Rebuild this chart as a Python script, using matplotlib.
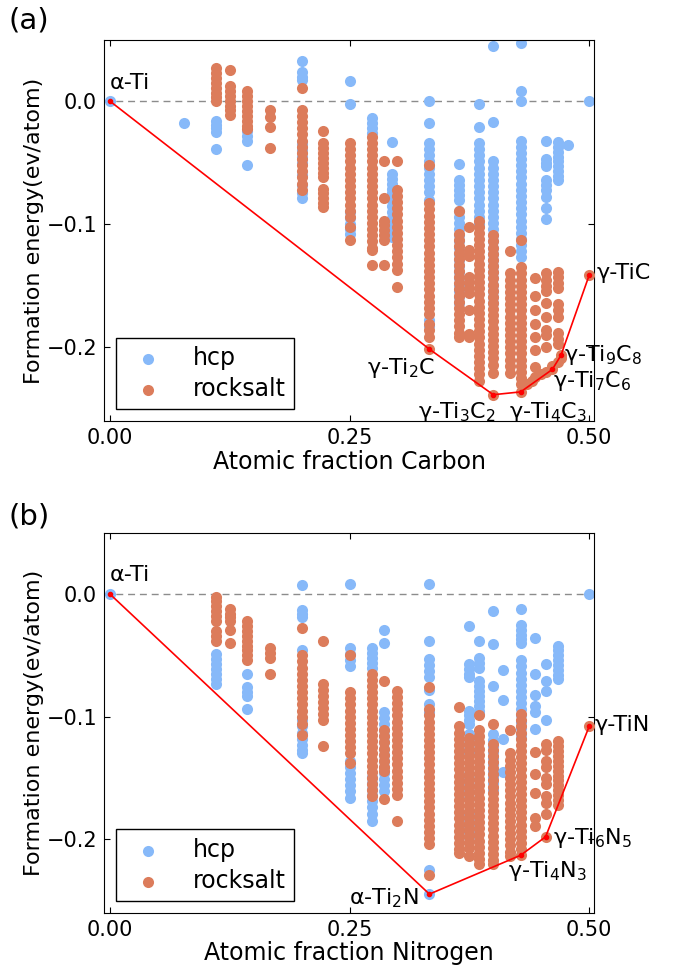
import numpy as np
import matplotlib.pyplot as plt

# ---------------- Ti-C data (atomic fraction, formation energy eV/atom) ----------------
c_hcp = [
    (0.0, [0.0]),
    (0.077, [-0.018]),
    (0.111, [-0.016, -0.019, -0.022, -0.025, -0.039]),
    (0.143, [-0.024, -0.028, -0.032, -0.052]),
    (0.2, [0.033, 0.024, 0.020, 0.017, -0.035, -0.040, -0.045, -0.050, -0.060, -0.068, -0.075, -0.079]),
    (0.25, [0.016, -0.002, -0.090, -0.095, -0.100, -0.104, -0.108]),
    (0.273, [-0.014, -0.018, -0.022, -0.026]),
    (0.294, [-0.033, -0.059, -0.063, -0.067, -0.071, -0.075, -0.080, -0.085, -0.090, -0.095,
             -0.100, -0.105, -0.110]),
    (0.333, [0.0, -0.018, -0.034, -0.039, -0.044, -0.049, -0.054, -0.059, -0.064, -0.069, -0.074,
             -0.080, -0.178, -0.183]),
    (0.364, [-0.051, -0.064, -0.068, -0.072, -0.076, -0.080, -0.089, -0.094, -0.099, -0.104, -0.109,
             -0.114, -0.119, -0.124, -0.129, -0.134, -0.139, -0.144, -0.149, -0.154, -0.159, -0.164]),
    (0.385, [-0.002, -0.021, -0.034, -0.039, -0.044, -0.049, -0.054, -0.059, -0.064, -0.069, -0.074,
             -0.079, -0.084, -0.089, -0.094, -0.100]),
    (0.4, [0.045, -0.017, -0.049, -0.054, -0.059, -0.064, -0.069, -0.074, -0.079, -0.084, -0.089,
           -0.094, -0.099, -0.104, -0.109, -0.114, -0.119, -0.124, -0.129, -0.134, -0.139, -0.144,
           -0.149, -0.154, -0.159, -0.164]),
    (0.429, [0.047, 0.008, 0.0, -0.032, -0.037, -0.042, -0.047, -0.052, -0.057, -0.062, -0.067, -0.072,
             -0.077, -0.082, -0.087, -0.092, -0.097, -0.102, -0.107, -0.112, -0.117, -0.122, -0.127]),
    (0.455, [-0.032, -0.047, -0.050, -0.053, -0.064, -0.068, -0.072, -0.078, -0.087, -0.096]),
    (0.467, [-0.033, -0.037, -0.041, -0.045, -0.049, -0.053, -0.057, -0.061, -0.064]),
    (0.478, [-0.036]),
    (0.5, [0.0]),
]

c_rocksalt = [
    (0.111, [0.027, 0.023, 0.019, 0.015, 0.011, 0.007, 0.003, 0.0]),
    (0.125, [0.025, 0.012, 0.008, 0.004, 0.0, -0.004, -0.007, -0.011]),
    (0.143, [0.008, 0.004, 0.0, -0.004, -0.008, -0.012, -0.016, -0.020, -0.023]),
    (0.167, [-0.007, -0.013, -0.021, -0.038]),
    (0.2, [0.011, -0.007, -0.012, -0.017, -0.022, -0.027, -0.032, -0.037, -0.042, -0.047, -0.052,
           -0.057, -0.062, -0.067, -0.072]),
    (0.222, [-0.024, -0.034, -0.038, -0.042, -0.046, -0.050, -0.054, -0.058, -0.062, -0.071, -0.075,
             -0.079, -0.083, -0.086]),
    (0.25, [-0.034, -0.039, -0.044, -0.049, -0.054, -0.059, -0.064, -0.069, -0.074, -0.079, -0.084,
            -0.089, -0.094, -0.102, -0.113]),
    (0.273, [-0.029, -0.034, -0.039, -0.044, -0.049, -0.054, -0.059, -0.064, -0.069, -0.074, -0.079,
             -0.084, -0.089, -0.094, -0.099, -0.104, -0.109, -0.114, -0.119, -0.121, -0.133]),
    (0.286, [-0.049, -0.079, -0.097, -0.101, -0.105, -0.109, -0.113, -0.133]),
    (0.3, [-0.049, -0.072, -0.077, -0.082, -0.087, -0.092, -0.097, -0.102, -0.107, -0.112, -0.117,
           -0.122, -0.127, -0.132, -0.137, -0.151]),
    (0.333, [-0.052, -0.083, -0.088, -0.093, -0.098, -0.103, -0.108, -0.113, -0.118, -0.123, -0.128,
             -0.133, -0.138, -0.143, -0.148, -0.153, -0.158, -0.163, -0.168, -0.173, -0.181, -0.186,
             -0.192, -0.2015]),
    (0.364, [-0.089, -0.108, -0.113, -0.118, -0.123, -0.128, -0.133, -0.138, -0.143, -0.148, -0.153,
             -0.158, -0.163, -0.168, -0.173, -0.178, -0.183, -0.188, -0.192]),
    (0.375, [-0.102, -0.121, -0.126, -0.143, -0.147, -0.152, -0.156, -0.170, -0.189, -0.192]),
    (0.385, [-0.097, -0.102, -0.107, -0.112, -0.117, -0.122, -0.127, -0.132, -0.137, -0.142, -0.147,
             -0.152, -0.157, -0.162, -0.167, -0.172, -0.177, -0.182, -0.187, -0.192, -0.197, -0.202,
             -0.207, -0.212, -0.217, -0.222, -0.227]),
    (0.4, [-0.109, -0.114, -0.119, -0.124, -0.129, -0.134, -0.139, -0.144, -0.149, -0.154, -0.159,
           -0.164, -0.169, -0.174, -0.179, -0.184, -0.189, -0.194, -0.199, -0.204, -0.209, -0.214,
           -0.221, -0.2385]),
    (0.417, [-0.122, -0.140, -0.145, -0.150, -0.155, -0.160, -0.165, -0.170, -0.175, -0.180, -0.185,
             -0.190, -0.195, -0.200, -0.205, -0.210, -0.215, -0.221]),
    (0.429, [-0.113, -0.135, -0.140, -0.145, -0.150, -0.155, -0.160, -0.165, -0.170, -0.175, -0.180,
             -0.185, -0.190, -0.195, -0.200, -0.205, -0.210, -0.215, -0.220, -0.225, -0.230, -0.2362]),
    (0.435, [-0.2295]),
    (0.440, [-0.227]),
    (0.444, [-0.144, -0.158, -0.170, -0.181, -0.192, -0.202, -0.216, -0.224]),
    (0.450, [-0.222]),
    (0.455, [-0.140, -0.145, -0.150, -0.154, -0.164, -0.175, -0.186, -0.190, -0.200, -0.220]),
    (0.4615, [-0.215, -0.218]),
    (0.467, [-0.139, -0.143, -0.148, -0.152, -0.165, -0.170, -0.175, -0.188, -0.193, -0.197, -0.212]),
    (0.4706, [-0.2065, -0.209]),
    (0.5, [-0.1415]),
]

c_hull_x = [0.0, 1 / 3, 2 / 5, 3 / 7, 6 / 13, 8 / 17, 0.5]
c_hull_y = [0.0, -0.2015, -0.2385, -0.2362, -0.218, -0.2065, -0.1415]
c_labels = [
    ('α-Ti', 0.0, 0.007, 'left', 'bottom'),
    ('γ-Ti$_2$C', 0.339, -0.207, 'right', 'top'),
    ('γ-Ti$_3$C$_2$', 0.403, -0.243, 'right', 'top'),
    ('γ-Ti$_4$C$_3$', 0.457, -0.243, 'center', 'top'),
    ('γ-Ti$_7$C$_6$', 0.462, -0.227, 'left', 'center'),
    ('γ-Ti$_9$C$_8$', 0.474, -0.206, 'left', 'center'),
    ('γ-TiC', 0.508, -0.140, 'left', 'center'),
]

# ---------------- Ti-N data ----------------
n_hcp = [
    (0.0, [0.0]),
    (0.111, [-0.049, -0.053, -0.057, -0.061, -0.065, -0.069, -0.073]),
    (0.143, [-0.065, -0.076, -0.080, -0.083, -0.094]),
    (0.2, [0.007, -0.013, -0.016, -0.019, -0.046, -0.103, -0.108, -0.113, -0.118, -0.123, -0.127, -0.130]),
    (0.25, [0.008, -0.044, -0.049, -0.054, -0.059, -0.136, -0.141, -0.146, -0.151, -0.156, -0.161, -0.166]),
    (0.273, [-0.044, -0.048, -0.052, -0.056, -0.060, -0.149, -0.154, -0.159, -0.164, -0.169, -0.174,
             -0.179, -0.185]),
    (0.286, [-0.029, -0.040, -0.096, -0.101, -0.106, -0.111, -0.116, -0.121, -0.126, -0.131, -0.136,
             -0.141, -0.146, -0.151, -0.156, -0.161]),
    (0.333, [0.008, -0.038, -0.053, -0.058, -0.063, -0.068, -0.078, -0.090, -0.096, -0.225, -0.2447]),
    (0.375, [-0.026, -0.057, -0.061, -0.065, -0.068, -0.095, -0.099, -0.103, -0.106, -0.114, -0.118,
             -0.122, -0.126, -0.130, -0.147, -0.151, -0.156, -0.161, -0.166, -0.179, -0.184, -0.189,
             -0.194, -0.198]),
    (0.385, [-0.038, -0.052, -0.056, -0.060, -0.071, -0.075, -0.079, -0.083, -0.087, -0.091, -0.095, -0.098]),
    (0.4, [-0.014, -0.041, -0.075, -0.114, -0.119, -0.124, -0.129, -0.134, -0.139, -0.144, -0.149,
           -0.154, -0.160]),
    (0.41, [-0.062, -0.086, -0.118, -0.145]),
    (0.429, [-0.012, -0.025, -0.029, -0.033, -0.037, -0.040, -0.054, -0.059, -0.064, -0.069, -0.074,
             -0.079, -0.084, -0.089, -0.094, -0.099, -0.104, -0.109, -0.114, -0.117]),
    (0.444, [-0.036, -0.065, -0.082, -0.091, -0.096, -0.110]),
    (0.455, [-0.057, -0.071, -0.079, -0.103]),
    (0.467, [-0.042, -0.046, -0.050, -0.054, -0.058, -0.062, -0.066, -0.069]),
    (0.5, [0.0]),
]

n_rocksalt = [
    (0.111, [-0.002, -0.006, -0.010, -0.014, -0.018, -0.022, -0.030, -0.034, -0.038]),
    (0.125, [-0.012, -0.016, -0.019, -0.022, -0.029, -0.040]),
    (0.143, [-0.022, -0.026, -0.030, -0.034, -0.038, -0.042, -0.046, -0.050, -0.054]),
    (0.167, [-0.044, -0.048, -0.052, -0.065]),
    (0.2, [-0.028, -0.050, -0.055, -0.060, -0.065, -0.070, -0.075, -0.080, -0.085, -0.090, -0.095,
           -0.100, -0.106, -0.115]),
    (0.222, [-0.038, -0.073, -0.078, -0.083, -0.088, -0.093, -0.098, -0.103, -0.124]),
    (0.25, [-0.050, -0.080, -0.085, -0.090, -0.095, -0.100, -0.105, -0.110, -0.115, -0.120, -0.125,
            -0.130, -0.138]),
    (0.273, [-0.065, -0.070, -0.075, -0.080, -0.085, -0.090, -0.095, -0.100, -0.105, -0.110, -0.115,
             -0.120, -0.125, -0.130, -0.135, -0.140, -0.145, -0.150, -0.155, -0.160, -0.165]),
    (0.286, [-0.071, -0.111, -0.116, -0.121, -0.126, -0.131, -0.136, -0.141, -0.144, -0.167]),
    (0.3, [-0.079, -0.084, -0.089, -0.094, -0.099, -0.104, -0.109, -0.114, -0.119, -0.124, -0.129,
           -0.134, -0.139, -0.144, -0.149, -0.154, -0.159, -0.164, -0.185]),
    (0.333, [-0.076, -0.094, -0.099, -0.104, -0.109, -0.114, -0.119, -0.124, -0.129, -0.134, -0.139,
             -0.144, -0.149, -0.154, -0.159, -0.164, -0.169, -0.174, -0.179, -0.184, -0.189, -0.194,
             -0.199, -0.204, -0.229]),
    (0.364, [-0.092, -0.108, -0.113, -0.118, -0.123, -0.128, -0.133, -0.138, -0.143, -0.148, -0.153,
             -0.158, -0.163, -0.168, -0.173, -0.178, -0.183, -0.188, -0.193, -0.198, -0.203, -0.208,
             -0.211]),
    (0.375, [-0.117, -0.122, -0.127, -0.132, -0.137, -0.142, -0.147, -0.152, -0.157, -0.162, -0.167,
             -0.172, -0.177, -0.182, -0.187, -0.192, -0.197, -0.202, -0.207, -0.214]),
    (0.385, [-0.099, -0.111, -0.116, -0.121, -0.126, -0.131, -0.136, -0.141, -0.146, -0.151, -0.156,
             -0.161, -0.166, -0.171, -0.176, -0.181, -0.186, -0.191, -0.196, -0.201, -0.206, -0.211,
             -0.216, -0.220]),
    (0.4, [-0.106, -0.122, -0.127, -0.132, -0.137, -0.142, -0.147, -0.152, -0.157, -0.162, -0.167,
           -0.172, -0.177, -0.182, -0.187, -0.192, -0.197, -0.202, -0.207, -0.212, -0.217, -0.220]),
    (0.417, [-0.111, -0.130, -0.135, -0.140, -0.145, -0.150, -0.155, -0.160, -0.165, -0.170, -0.175,
             -0.180, -0.185, -0.190, -0.195, -0.200, -0.205, -0.210, -0.214]),
    (0.429, [-0.098, -0.103, -0.108, -0.113, -0.118, -0.123, -0.128, -0.133, -0.138, -0.143, -0.148,
             -0.153, -0.158, -0.163, -0.168, -0.173, -0.178, -0.183, -0.188, -0.193, -0.198, -0.203,
             -0.208, -0.213]),
    (0.444, [-0.129, -0.147, -0.162, -0.183, -0.189]),
    (0.455, [-0.122, -0.127, -0.136, -0.141, -0.150, -0.155, -0.165, -0.170, -0.179, -0.198]),
    (0.467, [-0.120, -0.124, -0.128, -0.132, -0.136, -0.140, -0.144, -0.148, -0.152, -0.156, -0.160,
             -0.164, -0.168, -0.172]),
    (0.5, [-0.108]),
]

n_hull_x = [0.0, 1 / 3, 3 / 7, 5 / 11, 0.5]
n_hull_y = [0.0, -0.2447, -0.213, -0.198, -0.108]
n_labels = [
    ('α-Ti', 0.0, 0.007, 'left', 'bottom'),
    ('α-Ti$_2$N', 0.322, -0.248, 'right', 'center'),
    ('γ-Ti$_4$N$_3$', 0.415, -0.226, 'left', 'center'),
    ('γ-Ti$_6$N$_5$', 0.462, -0.199, 'left', 'center'),
    ('γ-TiN', 0.506, -0.107, 'left', 'center'),
]

hcp_color = '#87b9f9'
rs_color = '#dc7c5b'


def flat(cols):
    xs, ys = [], []
    for x, vals in cols:
        xs += [x] * len(vals)
        ys += vals
    return np.array(xs), np.array(ys)


def panel(ax, hcp, rs, hx, hy, labels, xlabel):
    ax.axhline(0, color='#8c8c8c', ls=(0, (5, 3.5)), lw=1, zorder=0)
    x, y = flat(hcp)
    ax.scatter(x, y, s=64, color=hcp_color, lw=0, label='hcp', zorder=2)
    x, y = flat(rs)
    ax.scatter(x, y, s=64, color=rs_color, lw=0, label='rocksalt', zorder=3)
    ax.plot(hx, hy, '-', color='red', lw=1.2, marker='o', ms=3, zorder=4)
    for t, tx, ty, ha, va in labels:
        ax.text(tx, ty, t, ha=ha, va=va, fontsize=16, clip_on=False)
    ax.set_xlim(-0.0063, 0.5052)
    ax.set_ylim(-0.26, 0.0496)
    ax.set_xticks([0, 0.25, 0.5])
    ax.set_xticklabels(['0.00', '0.25', '0.50'])
    ax.set_yticks([-0.2, -0.1, 0.0])
    ax.set_yticklabels(['\u22120.2', '\u22120.1', '0.0'])
    ax.tick_params(direction='in', top=True, right=True, labelsize=15, length=4, pad=5)
    ax.set_xlabel(xlabel, fontsize=17, labelpad=1)
    ax.set_ylabel('Formation energy(ev/atom)', fontsize=16, labelpad=2)
    leg = ax.legend(loc='lower left', fontsize=17, fancybox=False, edgecolor='black',
                    framealpha=1, handletextpad=0.9, borderaxespad=0.5, labelspacing=0.3,
                    borderpad=0.35, scatterpoints=1)
    leg.get_frame().set_linewidth(1)


fig = plt.figure(figsize=(6.79, 9.66), dpi=100)
ax1 = fig.add_axes([0.153, 0.564, 0.722, 0.3945])
ax2 = fig.add_axes([0.153, 0.055, 0.722, 0.393])

panel(ax1, c_hcp, c_rocksalt, c_hull_x, c_hull_y, c_labels, 'Atomic fraction Carbon')
panel(ax2, n_hcp, n_rocksalt, n_hull_x, n_hull_y, n_labels, 'Atomic fraction Nitrogen')

fig.text(0.012, 0.979, '(a)', fontsize=21, va='center')
fig.text(0.012, 0.465, '(b)', fontsize=21, va='center')

fig.savefig('out.png', dpi=100)
